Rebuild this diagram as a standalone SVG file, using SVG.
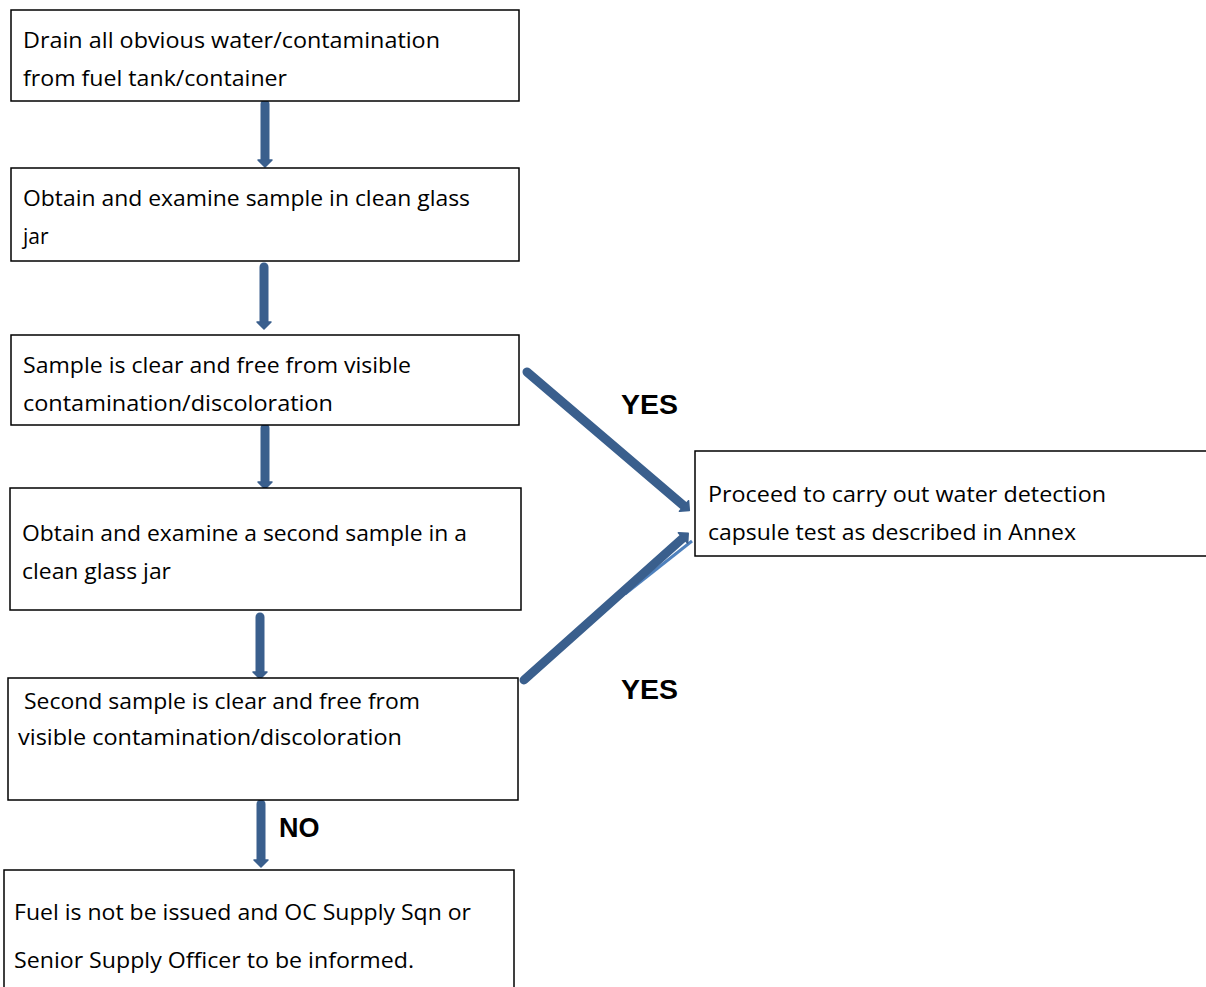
<svg xmlns="http://www.w3.org/2000/svg" width="1206" height="987" viewBox="0 0 1206 987">
<style>
.box{fill:#fff;stroke:#000;stroke-width:1.5}
.t{font-family:"Open Sans","Noto Sans","Liberation Sans",sans-serif;font-size:21px;fill:#000}
.lbl{font-family:"Liberation Sans",Arial,sans-serif;font-size:27px;font-weight:bold;fill:#000}
.arr{stroke:#3a5f8d;stroke-width:9;fill:none;stroke-linecap:round}
</style>
<defs>
<marker id="ah" markerUnits="userSpaceOnUse" markerWidth="10" markerHeight="16" refX="0" refY="8" orient="auto" overflow="visible">
<path d="M0,1 L7,8 L0,15 Z" fill="#3a5f8d" stroke="#3a5f8d" stroke-width="1.5" stroke-linejoin="round"/>
</marker>
</defs>
<rect width="1206" height="987" fill="#fff"/>
<g id="connectors">
<line class="arr" x1="265" y1="104" x2="265" y2="160" marker-end="url(#ah)"/>
<line class="arr" x1="264" y1="267" x2="264" y2="322" marker-end="url(#ah)"/>
<line class="arr" x1="265" y1="428" x2="265" y2="482" marker-end="url(#ah)"/>
<line class="arr" x1="260" y1="617" x2="260" y2="672" marker-end="url(#ah)"/>
<line class="arr" x1="261" y1="804" x2="261" y2="860" marker-end="url(#ah)"/>
<line class="arr" x1="527" y1="372" x2="684" y2="506" marker-end="url(#ah)"/>
<line x1="625" y1="594" x2="692" y2="541" stroke="#4f81bd" stroke-width="3"/>
<line class="arr" x1="524" y1="680" x2="683" y2="538" marker-end="url(#ah)"/>
<text class="lbl" x="621" y="414" textLength="57" lengthAdjust="spacingAndGlyphs">YES</text>
<text class="lbl" x="621" y="699" textLength="57" lengthAdjust="spacingAndGlyphs">YES</text>
<text class="lbl" x="279" y="837">NO</text>
</g>
<g id="n1">
<rect class="box" x="11" y="10" width="508" height="91"/>
<text class="t" x="23" y="48" textLength="417" lengthAdjust="spacingAndGlyphs">Drain all obvious water/contamination</text>
<text class="t" x="23" y="86" textLength="264" lengthAdjust="spacingAndGlyphs">from fuel tank/container</text>
</g>
<g id="n2">
<rect class="box" x="11" y="168" width="508" height="93"/>
<text class="t" x="23" y="206" textLength="447" lengthAdjust="spacingAndGlyphs">Obtain and examine sample in clean glass</text>
<text class="t" x="23" y="244">jar</text>
</g>
<g id="n3">
<rect class="box" x="11" y="335" width="508" height="90"/>
<text class="t" x="23" y="373" textLength="388" lengthAdjust="spacingAndGlyphs">Sample is clear and free from visible</text>
<text class="t" x="23" y="411" textLength="310" lengthAdjust="spacingAndGlyphs">contamination/discoloration</text>
</g>
<g id="n4">
<rect class="box" x="10" y="488" width="511" height="122"/>
<text class="t" x="22" y="541" textLength="445" lengthAdjust="spacingAndGlyphs">Obtain and examine a second sample in a</text>
<text class="t" x="22" y="579" textLength="149" lengthAdjust="spacingAndGlyphs">clean glass jar</text>
</g>
<g id="n5">
<rect class="box" x="8" y="678" width="510" height="122"/>
<text class="t" x="24" y="709" textLength="396" lengthAdjust="spacingAndGlyphs">Second sample is clear and free from</text>
<text class="t" x="18" y="745" textLength="384" lengthAdjust="spacingAndGlyphs">visible contamination/discoloration</text>
</g>
<g id="n6">
<rect class="box" x="4" y="870" width="510" height="130"/>
<text class="t" x="14" y="920" textLength="457" lengthAdjust="spacingAndGlyphs">Fuel is not be issued and OC Supply Sqn or</text>
<text class="t" x="14" y="968" textLength="400" lengthAdjust="spacingAndGlyphs">Senior Supply Officer to be informed.</text>
</g>
<g id="n7">
<rect class="box" x="695" y="451" width="513" height="105"/>
<text class="t" x="708" y="502" textLength="398" lengthAdjust="spacingAndGlyphs">Proceed to carry out water detection</text>
<text class="t" x="708" y="540" textLength="368" lengthAdjust="spacingAndGlyphs">capsule test as described in Annex</text>
</g>
</svg>
